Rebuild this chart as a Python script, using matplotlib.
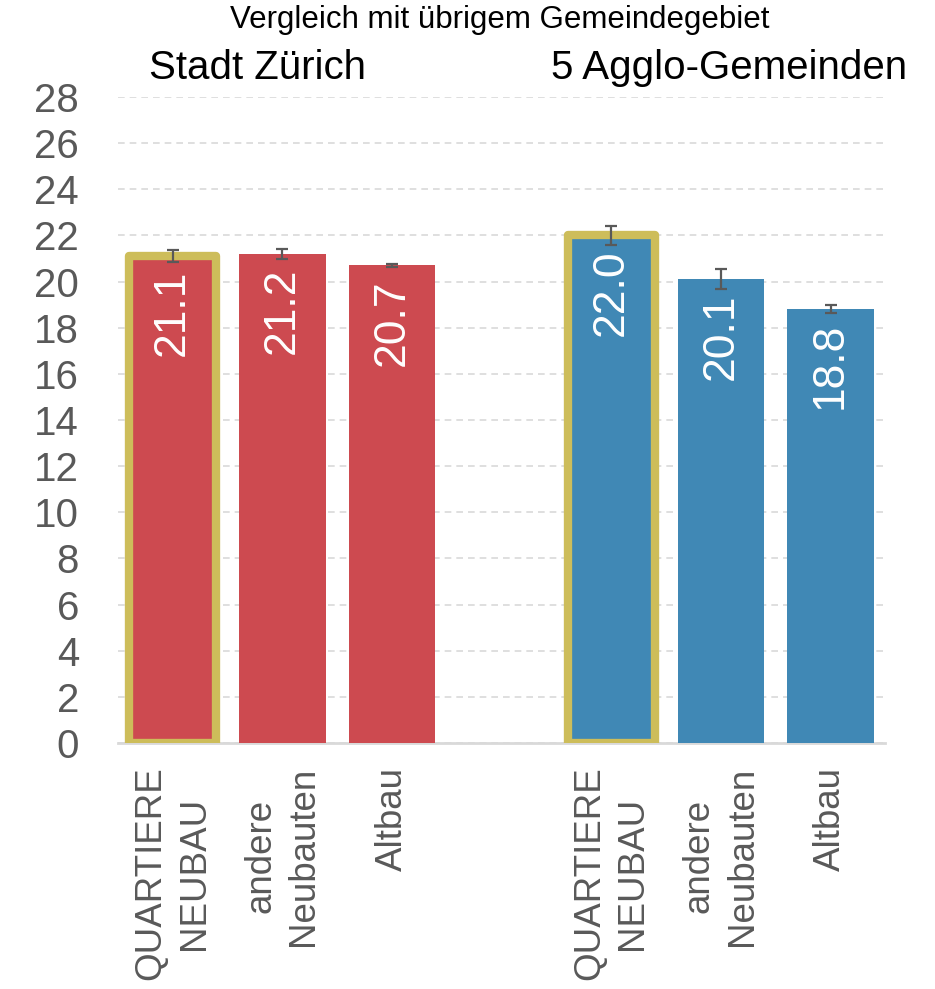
"""
Vergleich mit übrigem Gemeindegebiet – Balken mit Fehlerbalken.
"""

import matplotlib.pyplot as plt
import numpy as np

# ============================================================
# Daten
# ============================================================
groups = ['Stadt Zürich', '5 Agglo-Gemeinden']
categories = ['QUARTIERE\nNEUBAU', 'andere\nNeubauten', 'Altbau']
values_zh = [21.1, 21.2, 20.7]
err_zh = [0.27, 0.23, 0.05]
values_agglo = [22.0, 20.1, 18.8]
err_agglo = [0.40, 0.43, 0.17]
# ============================================================

RED = '#cd4a50'
BLUE = '#4088b5'
GOLD = '#cdbd5a'
TEXT = '#595959'
GRID = '#d9d9d9'

plt.rcParams['font.family'] = ['Liberation Sans', 'DejaVu Sans']

pos_zh = np.arange(len(categories))
pos_agglo = pos_zh + len(categories) + 1
positions = np.concatenate([pos_zh, pos_agglo])
values = values_zh + values_agglo
errs = err_zh + err_agglo
colors = [RED] * 3 + [BLUE] * 3

fig = plt.figure(figsize=(9.35, 9.89), dpi=100)
ax = fig.add_axes([0.126, 0.2487, 0.821, 0.6533])

bars = ax.bar(positions, values, width=0.79, color=colors, zorder=3)
# highlight the first bar of each group
for i in (0, 3):
    bars[i].set_edgecolor(GOLD)
    bars[i].set_linewidth(6)
    bars[i].set_joinstyle('round')

ax.errorbar(positions, values, yerr=errs, fmt='none', ecolor=TEXT,
            elinewidth=1.6, capsize=4.5, capthick=1.6, zorder=4, clip_on=False)

# value labels inside bars
for p, v in zip(positions, values):
    ax.text(p, v - 0.6, f'{v:.1f}', rotation=90, ha='center', va='top',
            color='white', fontsize=32, zorder=5)

ax.set_xlim(-0.5, positions[-1] + 0.5)
ax.set_ylim(0, 28)
ax.set_yticks(np.arange(0, 29, 2))
ax.set_xticks(positions)
ax.set_xticklabels(categories * 2, rotation=90, ha='center', va='top',
                   multialignment='center', linespacing=1.3,
                   fontsize=26.5, color=TEXT)
ax.tick_params(axis='x', length=0, pad=17)
ax.tick_params(axis='y', length=0, pad=28, labelsize=29, labelcolor=TEXT)

ax.yaxis.grid(True, color=GRID, linestyle=(0, (4, 3)), linewidth=1.2, zorder=1)
ax.set_axisbelow(True)
for s in ['top', 'right', 'left']:
    ax.spines[s].set_visible(False)
ax.spines['bottom'].set_color(GRID)
ax.spines['bottom'].set_linewidth(2)

# group headers and title
header_x = [pos_zh.mean() - 0.23, pos_agglo.mean() + 0.07]
for gx, g in zip(header_x, groups):
    ax.text(gx, 1.045, g, transform=ax.get_xaxis_transform(), ha='center',
            va='center', fontsize=29, color='black')
fig.text(0.535, 0.980, 'Vergleich mit übrigem Gemeindegebiet', ha='center',
         va='center', fontsize=22.5, color='black')

fig.savefig('out.png', dpi=100, facecolor='white')
